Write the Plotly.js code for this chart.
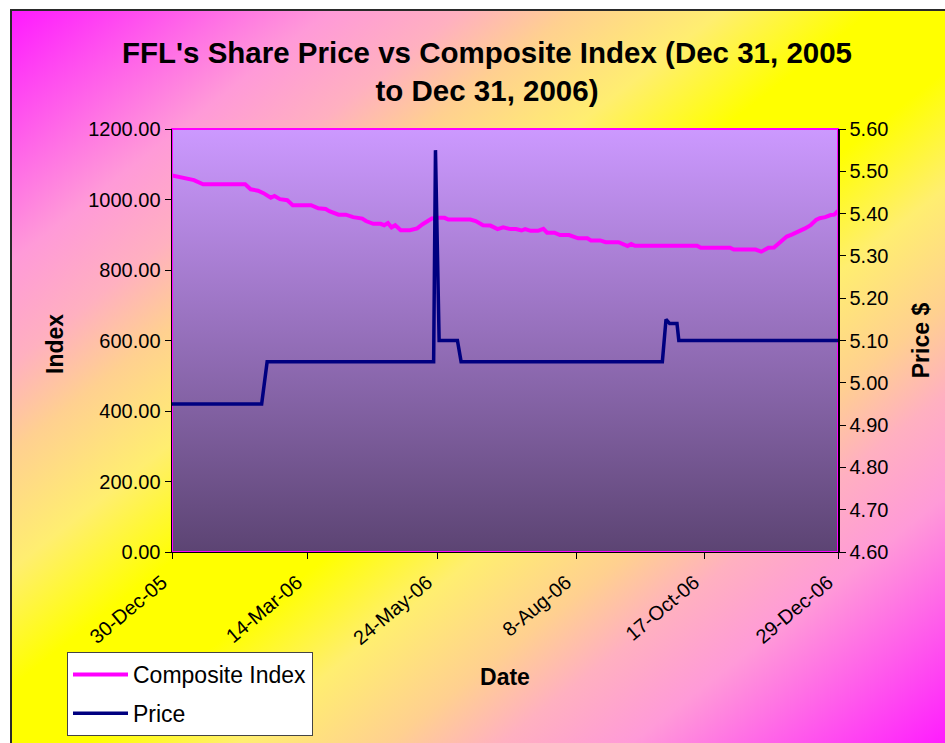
<!DOCTYPE html>
<html>
<head>
<meta charset="utf-8">
<script src="https://cdn.plot.ly/plotly-3.0.1.min.js"></script>
<style>
  html, body { margin: 0; padding: 0; background: #ffffff; width: 945px; height: 743px; overflow: hidden; }
  #bg { position: absolute; left: 10px; top: 9px; width: 935px; height: 734px;
        border-top: 2px solid #2a2a2a; border-left: 2px solid #2a2a2a;
        background: linear-gradient(to bottom right,
          #FF1AFF 0%, #FF9AD8 17%, #FFB0C0 24%, #FFD090 30%, #FFEE70 38%, #FFFF00 46%,
          #FFFF00 54%, #FFEE70 62%, #FFD090 70%, #FFB0C0 76%, #FF9AD8 83%, #FF1AFF 100%); }
  #chart { position: absolute; left: 0; top: 0; width: 945px; height: 743px; }
</style>
</head>
<body>
<div id="bg"></div>
<div id="chart"></div>
<script>
// ---- Data ----
const indexDates = [
  '2005-12-30','2006-01-03','2006-01-08','2006-01-11','2006-01-16','2006-02-08','2006-02-11','2006-02-15',
  '2006-02-18','2006-02-22','2006-02-24','2006-02-27','2006-03-03','2006-03-06','2006-03-16','2006-03-20',
  '2006-03-24','2006-03-26','2006-03-31','2006-04-04','2006-04-08','2006-04-13','2006-04-15','2006-04-19',
  '2006-04-23','2006-04-25','2006-04-27','2006-04-29','2006-05-01','2006-05-04','2006-05-09','2006-05-13',
  '2006-05-16','2006-05-21','2006-05-25','2006-05-28','2006-05-30','2006-06-11','2006-06-14','2006-06-18',
  '2006-06-22','2006-06-26','2006-06-29','2006-07-03','2006-07-06','2006-07-09','2006-07-11','2006-07-14',
  '2006-07-18','2006-07-21','2006-07-23','2006-07-27','2006-07-30','2006-08-04','2006-08-09','2006-08-14',
  '2006-08-16','2006-08-21','2006-08-24','2006-08-31','2006-09-05','2006-09-07','2006-09-09','2006-10-13',
  '2006-10-15','2006-10-31','2006-11-02','2006-11-14','2006-11-17','2006-11-21','2006-11-24','2006-11-27',
  '2006-12-01','2006-12-04','2006-12-07','2006-12-11','2006-12-14','2006-12-17','2006-12-19','2006-12-22',
  '2006-12-25','2006-12-27','2006-12-29'
];
const indexValues = [
  1068,1063,1057,1055,1043,1043,1029,1025,
  1018,1005,1010,1001,998,984,984,975,
  973,967,957,957,950,946,939,931,
  931,927,933,921,927,913,913,918,
  930,946,948,948,943,943,939,927,
  926,916,921,916,916,912,916,911,
  911,917,906,906,899,899,890,890,
  884,884,879,879,868,874,869,869,
  863,863,858,858,852,863,864,877,
  895,901,907,918,927,942,947,950,
  956,957,968
];

const priceDates = [
  '2005-12-30','2006-02-17','2006-02-20','2006-05-22','2006-05-23','2006-05-25','2006-06-04',
  '2006-06-06','2006-09-24','2006-09-26','2006-09-28','2006-10-02','2006-10-03','2006-12-29'
];
const priceValues = [4.95,4.95,5.05,5.05,5.55,5.10,5.10,5.05,5.05,5.15,5.14,5.14,5.10,5.10];

const xTickDates  = ['2005-12-30','2006-03-14','2006-05-24','2006-08-08','2006-10-17','2006-12-29'];
const xTickLabels = ['30-Dec-05','14-Mar-06','24-May-06','8-Aug-06','17-Oct-06','29-Dec-06'];

const seriesNames = ['Composite Index','Price'];
const titleText = "FFL's Share Price vs Composite Index (Dec 31, 2005<br>to Dec 31, 2006)";
const leftAxisTitle = 'Index';
const rightAxisTitle = 'Price $';
const bottomAxisTitle = 'Date';

// ---- Plot area gradient (as an SVG image) ----
const gradSvg = '<svg xmlns="http://www.w3.org/2000/svg" width="100" height="100" preserveAspectRatio="none">' +
  '<defs><linearGradient id="g" x1="0" y1="0" x2="0" y2="1">' +
  '<stop offset="0" stop-color="#CC99FF"/><stop offset="1" stop-color="#5C4473"/>' +
  '</linearGradient></defs><rect width="100" height="100" fill="url(#g)"/></svg>';
const gradSrc = 'data:image/svg+xml;charset=utf-8,' + encodeURIComponent(gradSvg);

const font = 'Arial, "Liberation Sans", sans-serif';

const traces = [
  { x: indexDates, y: indexValues, name: seriesNames[0], type: 'scatter', mode: 'lines',
    line: { color: '#FF00FF', width: 4 }, yaxis: 'y', legendgroup: 'a' },
  { x: priceDates, y: priceValues, name: seriesNames[1], type: 'scatter', mode: 'lines',
    line: { color: '#000080', width: 3.5 }, yaxis: 'y2', legendgroup: 'b' }
];

const layout = {
  width: 945, height: 743,
  margin: { l: 172, r: 107, t: 129, b: 191, pad: 0, autoexpand: false },
  paper_bgcolor: 'rgba(0,0,0,0)',
  plot_bgcolor: 'rgba(0,0,0,0)',
  font: { family: font, color: '#000000', size: 20 },
  showlegend: true,
  title: {
    text: '<b>' + titleText + '</b>',
    font: { family: font, size: 29.5, color: '#000000' },
    xref: 'container', yref: 'container',
    x: 487 / 945, xanchor: 'center',
    y: 1 - 63 / 743, yanchor: 'middle'
  },
  xaxis: {
    type: 'date',
    range: ['2005-12-30', '2006-12-29'],
    tickmode: 'array', tickvals: xTickDates, ticktext: xTickLabels,
    tickangle: -40, ticklabelshift: -10, ticklabelstandoff: 4,
    ticks: 'outside', ticklen: 6, tickcolor: '#000', tickwidth: 1,
    showline: true, linecolor: '#000', linewidth: 1,
    showgrid: false, zeroline: false,
    tickfont: { family: font, size: 20, color: '#000' },
    title: { text: '<b>' + bottomAxisTitle + '</b>', font: { family: font, size: 23, color: '#000' }, standoff: 20 },
    automargin: false
  },
  yaxis: {
    range: [0, 1200], tickmode: 'linear', tick0: 0, dtick: 200, tickformat: '.2f',
    ticks: 'outside', ticklen: 6, tickcolor: '#000', tickwidth: 1,
    showline: true, linecolor: '#000', linewidth: 1.5,
    showgrid: false, zeroline: false,
    tickfont: { family: font, size: 20, color: '#000' },
    automargin: false
  },
  yaxis2: {
    overlaying: 'y', side: 'right',
    range: [4.6, 5.6], tickmode: 'linear', tick0: 4.6, dtick: 0.1, tickformat: '.2f',
    ticks: 'outside', ticklen: 6, tickcolor: '#000', tickwidth: 1,
    showline: true, linecolor: '#000', linewidth: 1.5,
    showgrid: false, zeroline: false,
    tickfont: { family: font, size: 20, color: '#000' },
    title: { text: '<b>' + rightAxisTitle + '</b>', font: { family: font, size: 23, color: '#000' }, standoff: 25 },
    automargin: false
  },
  annotations: [{
    text: '<b>' + leftAxisTitle + '</b>', textangle: -90,
    xref: 'paper', yref: 'paper',
    x: (55 - 172) / 666, y: (552 - 344) / 423, xanchor: 'center', yanchor: 'middle',
    showarrow: false, font: { family: font, size: 23, color: '#000' }
  }],
  legend: {
    xref: 'container', yref: 'container',
    x: 67 / 945, y: 1 - 652 / 743, xanchor: 'left', yanchor: 'top',
    bgcolor: '#FFFFFF', bordercolor: '#444444', borderwidth: 1,
    font: { family: font, size: 23, color: '#000' },
    tracegroupgap: 6, itemwidth: 55
  },
  images: [{
    source: gradSrc, xref: 'paper', yref: 'paper',
    x: 0, y: 1, sizex: 1, sizey: 1, sizing: 'stretch',
    xanchor: 'left', yanchor: 'top', layer: 'below'
  }],
  shapes: [{
    type: 'rect', xref: 'paper', yref: 'paper', x0: 0, x1: 1, y0: 0, y1: 1,
    line: { color: '#FF00FF', width: 2 }, fillcolor: 'rgba(0,0,0,0)', layer: 'below'
  }]
};

Plotly.newPlot('chart', traces, layout, { displayModeBar: false, staticPlot: true });
</script>
</body>
</html>
